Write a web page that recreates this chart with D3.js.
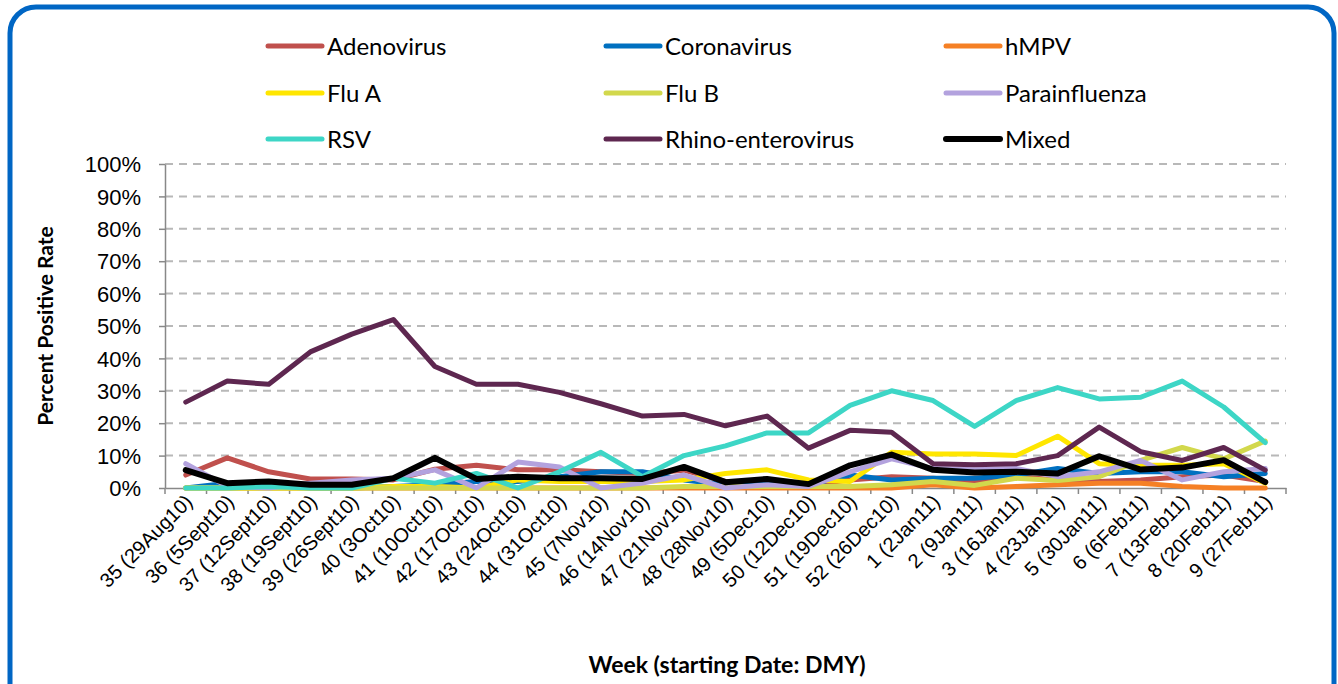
<!DOCTYPE html>
<html><head><meta charset="utf-8">
<script src="https://cdn.jsdelivr.net/npm/d3@7"></script>
<style>
body{margin:0;background:#fff;}
svg{display:block;font-family:Lato,"Open Sans",sans-serif;}
</style></head>
<body><svg id="c" width="1338" height="684"></svg>
<script>
const weeks = ["35 (29Aug10)","36 (5Sept10)","37 (12Sept10)","38 (19Sept10)","39 (26Sept10)","40 (3Oct10)","41 (10Oct10)","42 (17Oct10)","43 (24Oct10)","44 (31Oct10)","45 (7Nov10)","46 (14Nov10)","47 (21Nov10)","48 (28Nov10)","49 (5Dec10)","50 (12Dec10)","51 (19Dec10)","52 (26Dec10)","1 (2Jan11)","2 (9Jan11)","3 (16Jan11)","4 (23Jan11)","5 (30Jan11)","6 (6Feb11)","7 (13Feb11)","8 (20Feb11)","9 (27Feb11)"];
const yTicks = [0,10,20,30,40,50,60,70,80,90,100];

const adenovirus    = [4,9.3,5,2.8,2.8,2.5,5.8,7,5.6,5.6,5,4.5,5.5,2,2,1,2.5,3.5,3,2,3.5,2.5,2,2.5,3.5,4,2];
const coronavirus   = [0,1.5,1,0,0,0.5,1,2,2,3.5,5,5,2.5,1,1.5,1,4,2.5,3,3,4,6,4.5,5,5,3.5,4.5];
const hMPV          = [0,0,0,0,0,0,0,0,0,0,0,0,0,0,0,0,0,0,1,0,0.5,1,1.5,1.5,0.5,0,0];
const fluA          = [0,0,0,0,0,0.5,0.5,0,2.5,2,2,2,2.5,4.5,5.6,2.5,2,11,10.5,10.5,10,16,7.5,7,7,7.5,1.5];
const fluB          = [0,0,0,0,0,0,0,0,0,0,0,0,0.5,0.5,0.5,0.5,0.5,1,2,0.8,3,2.3,3.5,8.5,12.5,9,14.5];
const parainfluenza = [7.5,0.5,0,1.5,2.5,3,5.6,0,8,6.5,0,1.5,4,0,1,0.5,5,9,6,5.6,6,3.5,5,8.5,2.5,5,6];
const rsv           = [0,0,0.5,0,0,3,1.5,4.5,0,5,11,3.5,10,13,17,17,25.5,30,27,19,27,31,27.5,28,33,25,14];
const rhino         = [26.5,33,32,42,47.5,52,37.5,32,32,29.5,26,22.2,22.7,19.2,22.2,12.3,17.8,17.2,7.5,7.2,7.5,10,18.8,11.2,8.5,12.5,5.5];
const mixed         = [5.5,1.5,2,1,1,3,9.3,2.8,3.5,3,3,2.8,6.5,1.8,2.8,1.2,7,10.3,5.6,4.8,5,4.5,9.8,5.7,6.3,8.6,1.8];

const seriesNames  = ["Adenovirus","Coronavirus","hMPV","Flu A","Flu B","Parainfluenza","RSV","Rhino-enterovirus","Mixed"];
const seriesValues = [adenovirus,coronavirus,hMPV,fluA,fluB,parainfluenza,rsv,rhino,mixed];
const seriesColors = ["#C0504D","#0070C0","#F58025","#FFE600","#D2D84C","#B3A2DE","#3DD6C6","#5E2750","#000000"];

const svg = d3.select("#c");
svg.append("rect").attr("x",10).attr("y",7).attr("width",1324).attr("height",720)
  .attr("rx",26).attr("fill","none").attr("stroke","#0066C4").attr("stroke-width",5);

const L=165,R=1286,T=164,B=488;
const x = d3.scaleBand().domain(weeks).range([L,R]).padding(0);
const y = d3.scaleLinear().domain([0,100]).range([B,T]);

svg.append("g").selectAll("line").data(yTicks.filter(d=>d>0)).join("line")
  .attr("x1",L).attr("x2",R).attr("y1",d=>y(d)).attr("y2",d=>y(d))
  .attr("stroke","#B8B8B8").attr("stroke-width",2).attr("stroke-dasharray","8,6");

const ya = svg.append("g").attr("transform",`translate(${L},0)`)
  .call(d3.axisLeft(y).tickValues(yTicks).tickFormat(d=>d+"%").tickSize(6).tickSizeOuter(0));
ya.select(".domain").attr("stroke","#888").attr("stroke-width",1.5);
ya.selectAll(".tick line").attr("stroke","#888").attr("stroke-width",1.5);
ya.selectAll("text").attr("font-size",22).attr("fill","#000").attr("x",-24).attr("dy","0.35em");

const xa = svg.append("g").attr("transform",`translate(0,${B})`)
  .call(d3.axisBottom(x).tickSize(0).tickSizeOuter(0));
xa.select(".domain").attr("stroke","#888").attr("stroke-width",1.5);
xa.selectAll(".tick text").attr("font-size",20).attr("fill","#000")
  .attr("text-anchor","end").attr("dy","0").attr("y",0)
  .attr("transform","translate(8,15) rotate(-45)");
svg.append("g").selectAll("line").data(weeks.concat(["__end"])).join("line")
  .attr("x1",(d,i)=>L+i*x.bandwidth()).attr("x2",(d,i)=>L+i*x.bandwidth())
  .attr("y1",B).attr("y2",B+6).attr("stroke","#888").attr("stroke-width",1.5);

const line = d3.line().x((d,i)=>x(weeks[i])+x.bandwidth()/2).y(d=>y(d));
svg.append("g").selectAll("path").data(seriesValues).join("path")
  .attr("d",d=>line(d)).attr("fill","none")
  .attr("stroke",(d,i)=>seriesColors[i])
  .attr("stroke-width",(d,i)=>i===8?6:5)
  .attr("stroke-linejoin","round").attr("stroke-linecap","round");

const lg = svg.append("g");
const colX=[268,606,946], rowY=[46,93,139];
seriesNames.forEach((n,i)=>{
  const cx=colX[i%3], cy=rowY[Math.floor(i/3)];
  lg.append("line").attr("x1",cx).attr("x2",cx+54).attr("y1",cy).attr("y2",cy)
    .attr("stroke",seriesColors[i]).attr("stroke-width",i===8?6:5).attr("stroke-linecap","round");
  lg.append("text").attr("x",cx+59).attr("y",cy).attr("dy","0.36em")
    .attr("font-size",24).attr("fill","#000").text(n);
});

svg.append("text").attr("transform","translate(53,326) rotate(-90)")
  .attr("text-anchor","middle").attr("font-size",21).attr("font-weight","bold").text("Percent Positive Rate");
svg.append("text").attr("x",727).attr("y",673).attr("text-anchor","middle")
  .attr("font-size",23).attr("font-weight","bold").text("Week (starting Date: DMY)");
</script></body></html>
